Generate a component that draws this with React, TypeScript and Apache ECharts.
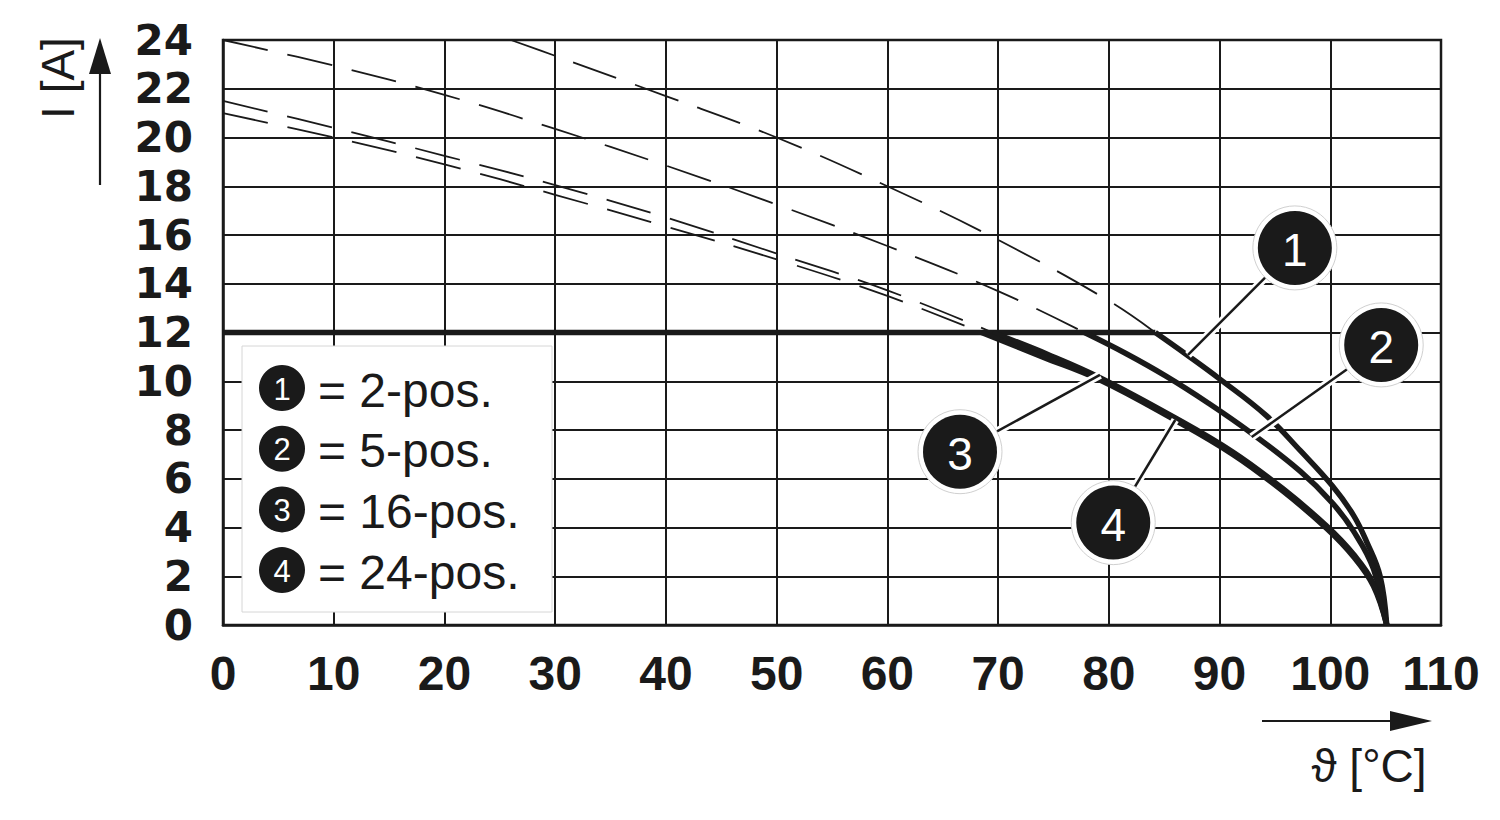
import React, { useEffect, useRef } from "react";
import * as echarts from "echarts";

// Axis ranges / ticks
const xMin = 0, xMax = 110, xStep = 10;
const yMin = 0, yMax = 24, yStep = 2;

// Dashed (extrapolated) part of each derating curve, above 12 A
const dashed1 = [[26, 24], [30, 23.35], [40, 21.7], [50, 20.0], [60, 18.0], [70, 15.8], [80, 13.3], [84.2, 12]];
const dashed2 = [[0, 24], [10, 22.95], [20, 21.75], [30, 20.35], [40, 18.85], [50, 17.25], [60, 15.55], [70, 13.7], [77.8, 12]];
const dashed3 = [[0, 21.5], [10, 20.4], [20, 19.25], [30, 18.05], [40, 16.72], [50, 15.24], [60, 13.73], [69.5, 12]];
const dashed4 = [[0, 21.0], [10, 20.0], [20, 18.9], [30, 17.65], [40, 16.35], [50, 15.0], [60, 13.5], [68.5, 12]];

// Solid part of each curve (below 12 A)
const solid1 = [[84.2, 12], [87, 11.1], [90, 10.1], [94.2, 8.6], [97.3, 7.15], [100.2, 5.7], [102.1, 4.5], [103.3, 3.4], [104.5, 2.0], [105.1, 0]];
const solid2 = [[77.8, 12], [81.5, 11.15], [85.2, 10.2], [89, 9.1], [92.7, 7.93], [97.3, 6.3], [100.2, 5.0], [102.1, 3.85], [103.9, 2.3], [105.1, 0]];
const solid3 = [[69.5, 12], [74.5, 11.1], [79.2, 10.15], [85.8, 8.55], [91.2, 7.1], [95.7, 5.6], [99.7, 4.05], [102.1, 2.9], [103.9, 1.7], [105.1, 0]];
const solid4 = [[68.5, 12], [74, 11.0], [79.2, 10.05], [85.8, 8.45], [91.2, 7.0], [95.7, 5.5], [99.7, 3.95], [102.1, 2.8], [103.9, 1.6], [105.1, 0]];

// Maximum current line
const limitLine = [[0, 12], [84.2, 12]];

// Legend entries
const legendNumbers = ["1", "2", "3", "4"];
const legendTexts = ["= 2-pos.", "= 5-pos.", "= 16-pos.", "= 24-pos."];

// Callouts: circle centre and leader end point (data coords)
const calloutLabels = ["1", "2", "3", "4"];
const calloutCenters = [[96.8, 15.47], [104.6, 11.49], [66.56, 7.11], [80.4, 4.2]];
const calloutTargets = [[87.15, 11.08], [92.9, 7.71], [79.2, 10.26], [86.0, 8.41]];

const axisTitleY = "I [A]";
const axisTitleX = "ϑ [°C]";

const FONT = "'Liberation Sans', Arial, Helvetica, sans-serif";
const INK = "#1a1a1a";

export default function App() {
  const ref = useRef<HTMLDivElement>(null);

  useEffect(() => {
    if (!ref.current) return;
    const chart = echarts.init(ref.current, undefined, { renderer: "svg" });

    const dashedStyle = { color: INK, width: 1.8, type: [46, 20] as any };
    const solidStyle = { color: INK, width: 5.5 };
    const mk = (data: number[][], style: any, z = 3) => ({
      type: "line",
      data,
      symbol: "none",
      smooth: 0.4,
      lineStyle: style,
      z,
      silent: true,
    });

    chart.setOption({
      animation: false,
      backgroundColor: "#ffffff",
      grid: {
        left: 223,
        top: 40,
        width: 1218,
        height: 585,
        show: true,
        borderColor: INK,
        borderWidth: 2.5,
        backgroundColor: "transparent",
      },
      xAxis: {
        type: "value",
        min: xMin,
        max: xMax,
        interval: xStep,
        axisLine: { show: true, lineStyle: { color: INK, width: 2.5 } },
        axisTick: { show: false },
        splitLine: { show: true, lineStyle: { color: INK, width: 2 } },
        axisLabel: {
          color: INK,
          fontFamily: FONT,
          fontWeight: "bold",
          fontSize: 48,
          margin: 24,
        },
      },
      yAxis: {
        type: "value",
        min: yMin,
        max: yMax,
        interval: yStep,
        axisLine: { show: true, lineStyle: { color: INK, width: 2.5 } },
        axisTick: { show: false },
        splitLine: { show: true, lineStyle: { color: INK, width: 2 } },
        axisLabel: {
          color: INK,
          fontFamily: "'DejaVu Sans', " + FONT,
          fontWeight: "bold",
          fontSize: 42,
          margin: 30,
          padding: [12, 0, 0, 0],
        },
      },
      series: [
        mk(dashed1, dashedStyle),
        mk(dashed2, dashedStyle),
        mk(dashed3, dashedStyle),
        mk(dashed4, dashedStyle),
        { type: "line", data: limitLine, symbol: "none", lineStyle: solidStyle, z: 4, silent: true },
        mk(solid1, solidStyle, 4),
        mk(solid2, solidStyle, 4),
        mk(solid3, solidStyle, 4),
        mk(solid4, solidStyle, 4),
      ],
    });

    const px = (p: number[]) => chart.convertToPixel({ gridIndex: 0 }, p) as number[];

    const graphics: any[] = [];

    // Legend box
    graphics.push({
      type: "rect",
      shape: { x: 242, y: 346, width: 310, height: 266 },
      style: { fill: "#ffffff", stroke: "#d6d6d6", lineWidth: 1 },
      z: 100,
    });
    legendNumbers.forEach((n, i) => {
      const cy = 388 + i * 60.7;
      graphics.push({
        type: "circle",
        shape: { cx: 282, cy, r: 23 },
        style: { fill: INK },
        z: 101,
      });
      graphics.push({
        type: "text",
        x: 282,
        y: cy + 1,
        style: {
          text: n,
          fill: "#ffffff",
          font: `31px ${FONT}`,
          align: "center",
          verticalAlign: "middle",
        },
        z: 102,
      });
      graphics.push({
        type: "text",
        x: 318,
        y: cy + 2,
        style: {
          text: legendTexts[i],
          fill: INK,
          font: `48px ${FONT}`,
          align: "left",
          verticalAlign: "middle",
        },
        z: 102,
      });
    });

    // Callouts
    calloutLabels.forEach((lab, i) => {
      const c = px(calloutCenters[i]);
      const t = px(calloutTargets[i]);
      graphics.push({
        type: "line",
        shape: { x1: c[0], y1: c[1], x2: t[0], y2: t[1] },
        style: { stroke: "#ffffff", lineWidth: 8 },
        z: 110,
      });
      graphics.push({
        type: "line",
        shape: { x1: c[0], y1: c[1], x2: t[0], y2: t[1] },
        style: { stroke: INK, lineWidth: 2.5 },
        z: 111,
      });
      graphics.push({
        type: "circle",
        shape: { cx: c[0], cy: c[1], r: 42 },
        style: { fill: "#ffffff", stroke: "#d0d0d0", lineWidth: 1 },
        z: 112,
      });
      graphics.push({
        type: "circle",
        shape: { cx: c[0], cy: c[1], r: 37 },
        style: { fill: INK },
        z: 113,
      });
      graphics.push({
        type: "text",
        x: c[0],
        y: c[1] + 2,
        style: {
          text: lab,
          fill: "#ffffff",
          font: `46px ${FONT}`,
          align: "center",
          verticalAlign: "middle",
        },
        z: 114,
      });
    });

    // Y axis title and arrow
    graphics.push({
      type: "text",
      x: 58,
      y: 78,
      rotation: Math.PI / 2,
      style: {
        text: axisTitleY,
        fill: INK,
        font: `46px ${FONT}`,
        align: "center",
        verticalAlign: "middle",
      },
      z: 120,
    });
    graphics.push({
      type: "line",
      shape: { x1: 100, y1: 185, x2: 100, y2: 70 },
      style: { stroke: INK, lineWidth: 2.2 },
      z: 120,
    });
    graphics.push({
      type: "polygon",
      shape: { points: [[100, 38], [89, 74], [111, 74]] },
      style: { fill: INK },
      z: 120,
    });

    // X axis title and arrow
    graphics.push({
      type: "line",
      shape: { x1: 1262, y1: 721, x2: 1395, y2: 721 },
      style: { stroke: INK, lineWidth: 2.2 },
      z: 120,
    });
    graphics.push({
      type: "polygon",
      shape: { points: [[1432, 721], [1390, 711], [1390, 731]] },
      style: { fill: INK },
      z: 120,
    });
    graphics.push({
      type: "text",
      x: 1369,
      y: 766,
      style: {
        text: axisTitleX,
        fill: INK,
        font: `46px ${FONT}`,
        align: "center",
        verticalAlign: "middle",
      },
      z: 120,
    });

    chart.setOption({ graphic: graphics });

    return () => chart.dispose();
  }, []);

  return (
    <div
      ref={ref}
      style={{ position: "fixed", left: 0, top: 0, width: 1500, height: 820, background: "#fff" }}
    />
  );
}
